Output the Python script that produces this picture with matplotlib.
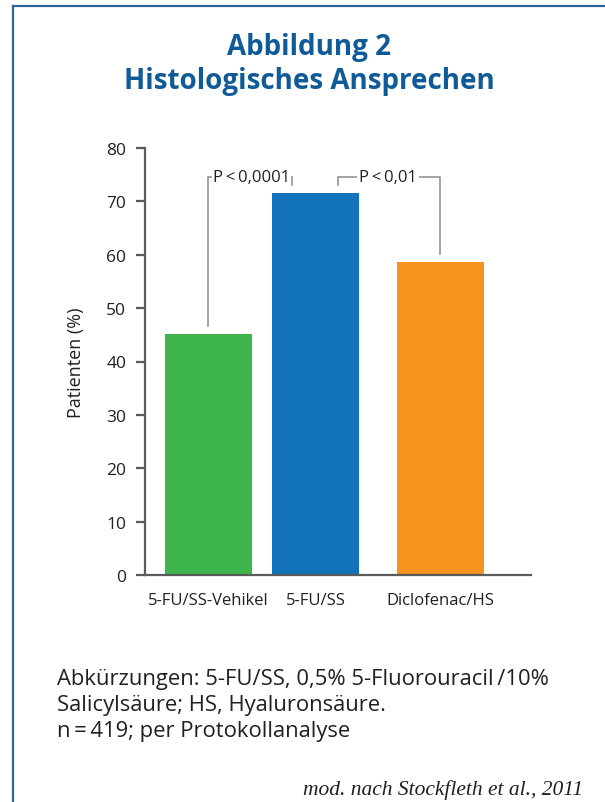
import matplotlib
matplotlib.use("Agg")
import matplotlib.pyplot as plt
from matplotlib.lines import Line2D

# --- data -------------------------------------------------------------
categories = ["5-FU/SS-Vehikel", "5-FU/SS", "Diclofenac/HS"]
values = [45.1, 71.6, 58.7]
bar_colors = ["#3db54a", "#1273bb", "#f6921e"]
y_ticks = [0, 10, 20, 30, 40, 50, 60, 70, 80]
p_labels = ["P\u2009<\u20090,0001", "P\u2009<\u20090,01"]

TEXT = "#231f20"
AXIS = "#5b5b5b"
BRACKET = "#8c8c8c"
TITLE_BLUE = "#0f5a98"
FRAME_BLUE = "#2c659c"
SANS = ["Open Sans", "DejaVu Sans"]

W, H = 605, 803
fig = plt.figure(figsize=(W / 100, H / 100), dpi=100)
fig.patch.set_facecolor("white")

# frame (open to the right and bottom)
fig.add_artist(Line2D([13 / W, 13 / W], [0, 1 - 7 / H], transform=fig.transFigure,
                      color=FRAME_BLUE, lw=1.6))
fig.add_artist(Line2D([13 / W, 1], [1 - 7 / H, 1 - 7 / H], transform=fig.transFigure,
                      color=FRAME_BLUE, lw=1.6))

# title
fig.text(309 / W, 1 - 47 / H, "Abbildung 2", ha="center", va="center",
         fontsize=20, fontweight="bold", color=TITLE_BLUE, family=SANS)
fig.text(309 / W, 1 - 81 / H, "Histologisches Ansprechen", ha="center", va="center",
         fontsize=20, fontweight="bold", color=TITLE_BLUE, family=SANS)

# axes area in pixels: x 145..531, y 149 (80) .. 576 (0)
ax = fig.add_axes([145 / W, 1 - 576 / H, (531 - 145) / W, (576 - 149) / H])

# bar layout: unit spacing between first two bars, wider gap before the third
positions = [0.0, 1.0, 2.168]
bar_width = 0.813
ax.bar(positions, values, width=bar_width, color=bar_colors, zorder=2)

ax.set_xlim(-0.593, 3.014)
ax.set_ylim(0, 80)
ax.set_yticks(y_ticks)
ax.set_yticklabels([str(t) for t in y_ticks], family=SANS, fontsize=12.5, color=TEXT)
ax.set_xticks(positions)
ax.set_xticklabels(categories, family=SANS, fontsize=12, color=TEXT)
ax.tick_params(axis="y", length=6.5, width=1.6, color=AXIS, pad=7)
ax.tick_params(axis="x", length=0, pad=12)
for s in ["top", "right"]:
    ax.spines[s].set_visible(False)
for s in ["left", "bottom"]:
    ax.spines[s].set_color(AXIS)
    ax.spines[s].set_linewidth(1.6)
ax.set_ylabel("Patienten (%)", family=SANS, fontsize=13, color=TEXT, labelpad=15)

# significance brackets
top = 74.6
tick = 1.5
lw_b = 1.1
# group 1 vs group 2
ax.plot([positions[0], positions[0], 0.781, 0.781],
        [values[0] + tick, top, top, top - tick], color=BRACKET, lw=lw_b, zorder=1)
ax.text(0.40, top, p_labels[0], ha="center", va="center",
        family=SANS, fontsize=12, color=TEXT,
        bbox=dict(boxstyle="square,pad=0.05", fc="white", ec="none"), zorder=3)
# group 2 vs group 3
ax.plot([1.211, 1.211, positions[2], positions[2]],
        [top - tick, top, top, values[2] + tick], color=BRACKET, lw=lw_b, zorder=1)
ax.text(1.68, top, p_labels[1], ha="center", va="center",
        family=SANS, fontsize=12, color=TEXT,
        bbox=dict(boxstyle="square,pad=0.12", fc="white", ec="none"), zorder=3)

# footnotes
notes = ["Abkürzungen: 5-FU/SS, 0,5% 5-Fluorouracil\u2009/10%",
         "Salicylsäure; HS, Hyaluronsäure.",
         "n\u2009=\u2009419; per Protokollanalyse"]
for i, line in enumerate(notes):
    fig.text(57 / W, 1 - (685 + 26 * i) / H, line, ha="left", va="baseline",
             family=SANS, fontsize=15.8, color=TEXT)
fig.text(583 / W, 1 - 795 / H, "mod. nach Stockfleth et al., 2011", ha="right",
         va="baseline", family=["Liberation Serif", "DejaVu Serif"], style="italic",
         fontsize=15.5, color=TEXT)

fig.savefig("out.png", dpi=100)
